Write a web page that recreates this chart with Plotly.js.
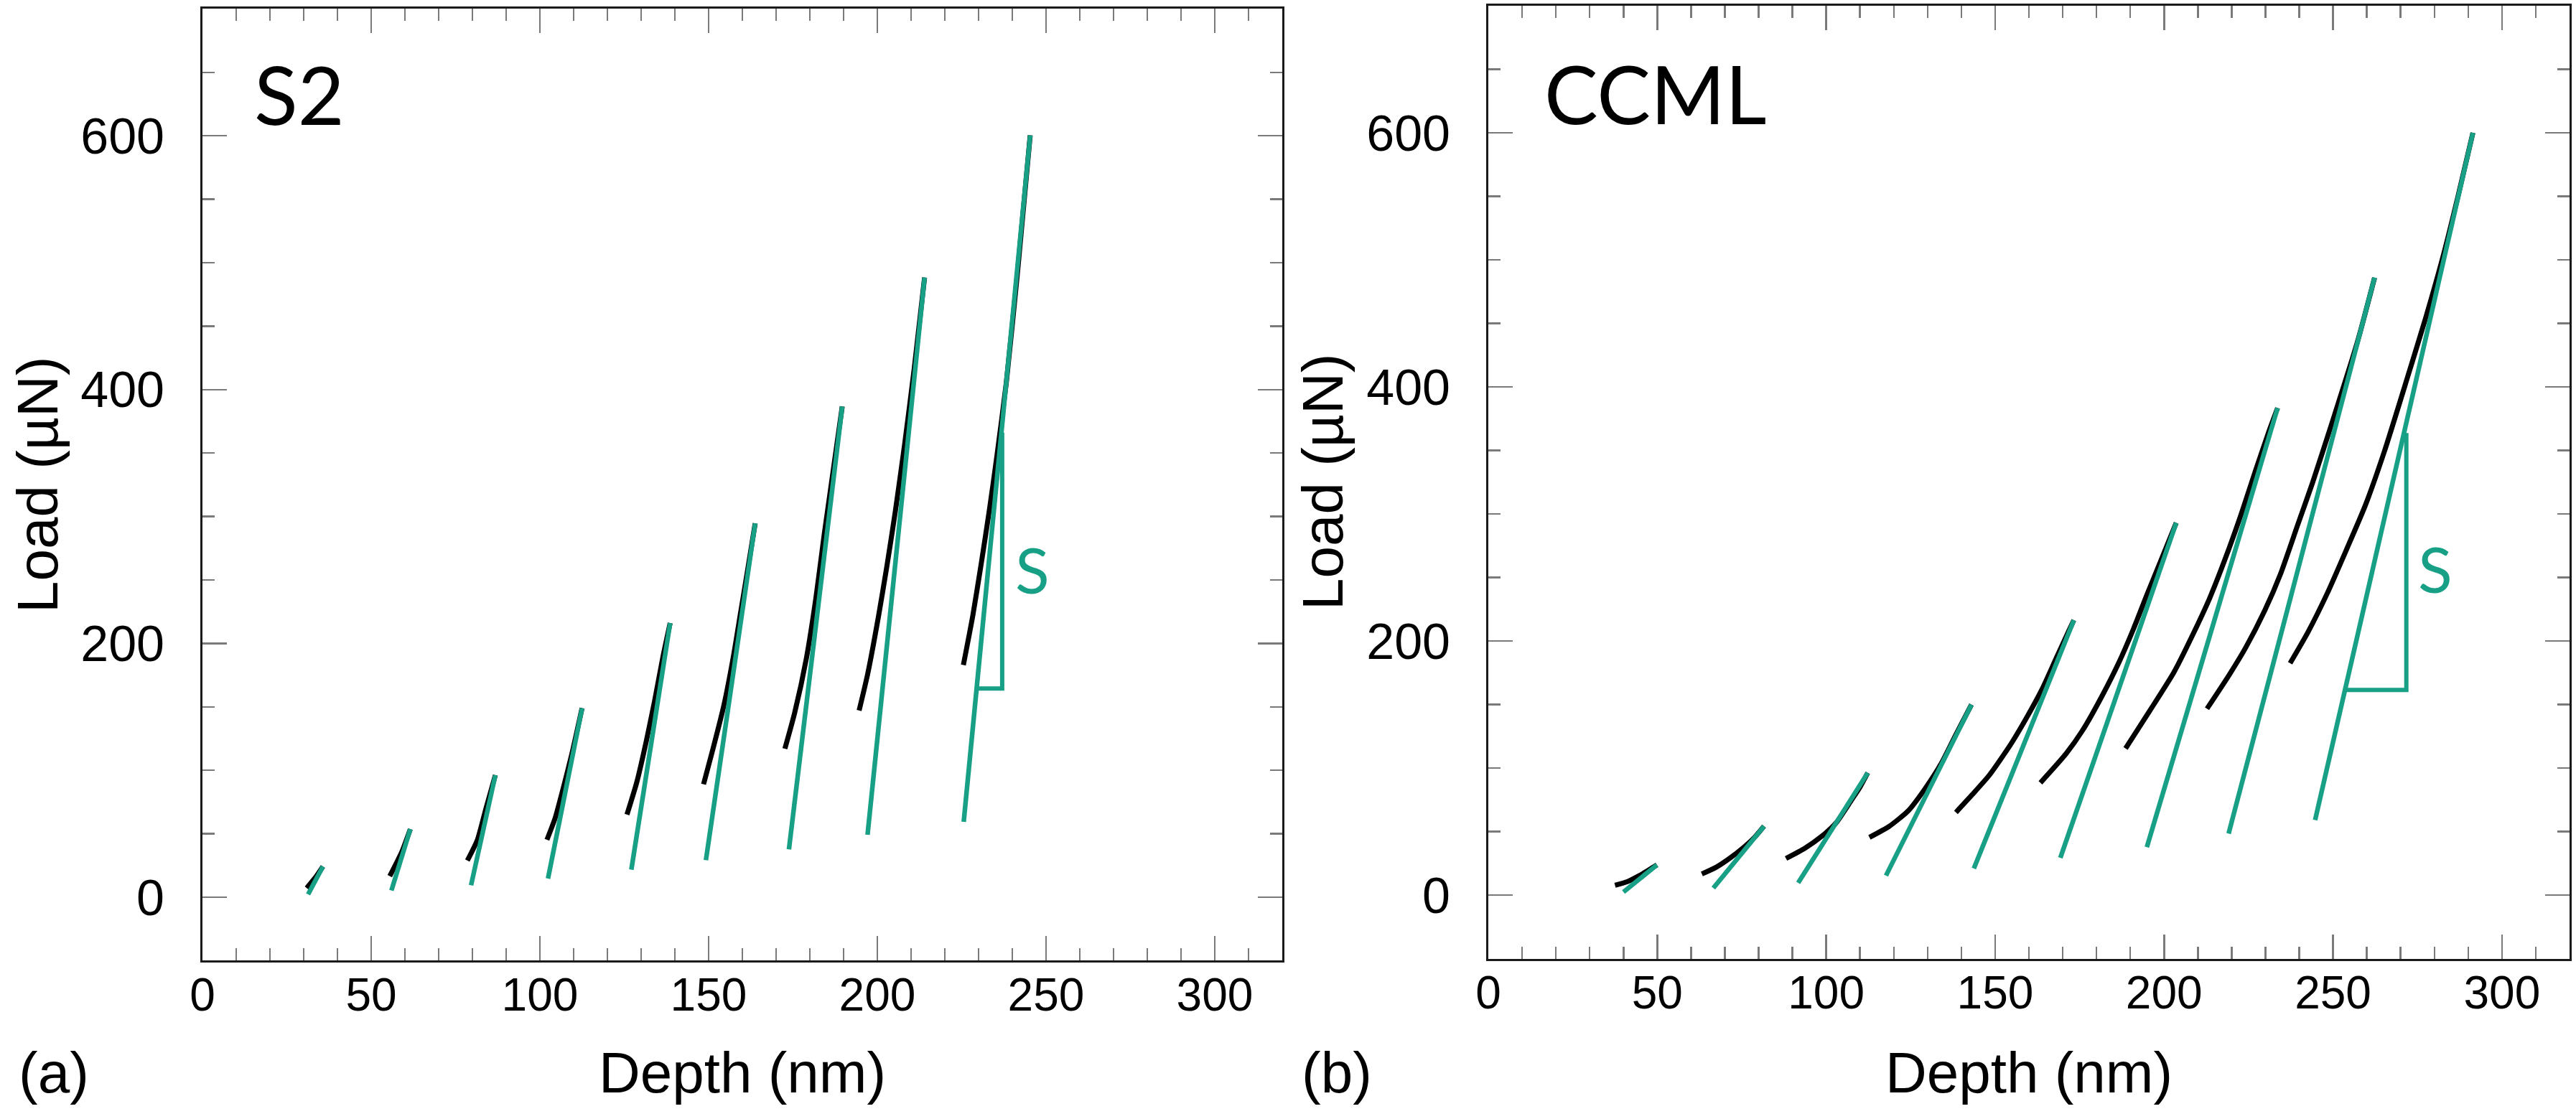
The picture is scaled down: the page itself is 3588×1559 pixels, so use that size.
<!DOCTYPE html>
<html>
<head>
<meta charset="utf-8">
<script src="https://cdn.plot.ly/plotly-3.0.1.min.js"></script>
<style>
  html, body { margin: 0; padding: 0; background: #ffffff; }
  #chart { width: 3588px; height: 1559px; }
</style>
</head>
<body>
<div id="chart"></div>
<script>
// S2: unloading segments (black), one list per cycle, depth in nm and load in uN
const s2CurveDepth = [
  [30.9, 33.6, 35.7],
  [55.5, 59.1, 61.6],
  [78.5, 81.5, 84.0, 86.8],
  [102.1, 104.5, 107.0, 109.5, 112.5],
  [125.8, 128.7, 131.5, 134.0, 136.4, 138.6],
  [148.5, 151.3, 154.5, 157.4, 159.5, 161.6, 163.8],
  [172.6, 175.5, 179.0, 181.8, 184.3, 189.6],
  [194.6, 197.1, 200.3, 202.8, 205.3, 208.1, 211.0, 214.0],
  [225.5, 228.3, 230.8, 233.2, 235.3, 238.2, 241.6, 245.3]
];
const s2CurveLoad = [
  [7.2, 16.0, 24.2],
  [16.6, 35.9, 53.7],
  [28.9, 45.3, 69.8, 96.2],
  [45.3, 62.2, 86.8, 113.2, 149.0],
  [65.1, 90.5, 122.6, 154.7, 188.6, 216.0],
  [89.0, 117.0, 150.9, 190.5, 224.5, 258.4, 294.6],
  [117.0, 145.3, 188.6, 235.8, 286.7, 386.7],
  [147.1, 175.4, 220.7, 260.3, 303.5, 357.0, 418.0, 488.3],
  [183.0, 222.0, 263.0, 305.0, 345.0, 405.0, 494.0, 600.4]
];

// S2: tangent lines (green), start and end of each
const s2FitDepth = [
  [31.3, 35.7], [56.0, 61.6], [79.6, 86.8], [102.4, 112.5], [127.1, 138.6],
  [149.2, 163.8], [173.8, 189.6], [197.1, 214.0], [225.6, 245.3]
];
const s2FitLoad = [
  [2.3, 24.2], [5.3, 53.7], [9.4, 96.2], [14.7, 149.0], [21.7, 216.0],
  [29.2, 294.6], [37.7, 386.7], [49.2, 488.3], [59.4, 600.4]
];

// CCML: unloading segments (black)
const ccmlCurveDepth = [
  [37.5, 41.2, 44.7, 47.6, 49.9],
  [63.2, 67.4, 71.7, 75.3, 78.8, 81.6],
  [88.1, 93.7, 98.7, 102.9, 107.2, 110.0, 112.3],
  [112.8, 118.5, 124.2, 129.1, 134.1, 138.4, 143.0],
  [138.4, 143.2, 148.3, 154.7, 159.6, 163.9, 168.1, 171.7, 173.3],
  [163.4, 171.0, 176.0, 181.6, 186.6, 190.9, 195.1, 198.7, 203.6],
  [188.6, 195.8, 202.9, 208.6, 213.5, 218.5, 222.8, 227.0, 231.3, 233.6],
  [212.7, 219.2, 224.2, 229.8, 234.5, 239.5, 244.0, 250.1, 257.2, 262.3],
  [237.3, 242.6, 248.3, 254.0, 259.6, 265.3, 272.1, 277.5, 282.5, 287.0, 291.4]
];
const ccmlCurveLoad = [
  [7.7, 10.6, 15.3, 19.9, 23.7],
  [16.6, 21.8, 29.4, 36.9, 45.4, 54.2],
  [28.8, 36.9, 46.3, 56.7, 73.6, 84.9, 96.2],
  [45.4, 53.8, 66.1, 83.1, 103.8, 126.4, 149.9],
  [65.1, 79.0, 94.4, 119.0, 141.0, 162.1, 186.6, 207.3, 216.4],
  [88.4, 111.3, 130.1, 156.5, 182.9, 209.2, 237.5, 261.0, 293.0],
  [115.4, 145.2, 175.3, 205.5, 233.7, 267.6, 299.6, 333.5, 367.0, 383.4],
  [146.7, 173.0, 195.0, 224.0, 253.0, 291.0, 325.0, 375.0, 435.2, 486.0],
  [182.5, 207.0, 237.5, 272.0, 307.0, 350.0, 408.0, 455.0, 502.0, 550.0, 600.0]
];

// CCML: tangent lines (green)
const ccmlFitDepth = [
  [40.0, 49.9], [66.6, 81.6], [91.7, 112.3], [117.7, 143.0], [143.7, 173.3],
  [169.3, 203.6], [194.9, 233.6], [219.1, 262.3], [244.7, 291.4]
];
const ccmlFitLoad = [
  [2.4, 23.7], [5.5, 54.2], [9.6, 96.2], [15.3, 149.9], [20.9, 216.4],
  [29.3, 293.0], [37.7, 383.4], [48.4, 486.0], [59.0, 600.0]
];

// stiffness triangles marked "S"
const s2StiffDepth = [229.4, 237.0, 237.0];
const s2StiffLoad = [164.5, 164.5, 366.0];
const ccmlStiffDepth = [253.6, 271.7, 271.7];
const ccmlStiffLoad = [161.5, 161.5, 363.7];

const TEAL = '#17a086';
const W = 3588, H = 1559;

function lineTraces(xs, ys, xa, ya, color, width, shape) {
  return xs.map((x, i) => ({
    x: x,
    y: ys[i],
    xaxis: xa,
    yaxis: ya,
    type: 'scatter',
    mode: 'lines',
    line: { color: color, width: width, shape: shape, smoothing: 0.6 },
    hoverinfo: 'skip',
    showlegend: false
  }));
}

const traces = [
  ...lineTraces(s2CurveDepth, s2CurveLoad, 'x', 'y', '#000000', 7, 'spline'),
  ...lineTraces(s2FitDepth, s2FitLoad, 'x', 'y', TEAL, 6.5, 'linear'),
  ...lineTraces([s2StiffDepth], [s2StiffLoad], 'x', 'y', TEAL, 6, 'linear'),
  ...lineTraces(ccmlCurveDepth, ccmlCurveLoad, 'x2', 'y2', '#000000', 7, 'spline'),
  ...lineTraces(ccmlFitDepth, ccmlFitLoad, 'x2', 'y2', TEAL, 6.5, 'linear'),
  ...lineTraces([ccmlStiffDepth], [ccmlStiffLoad], 'x2', 'y2', TEAL, 6, 'linear')
];

const tickGrey = '#7a7a7a';
const sans = 'Liberation Sans, Arial, sans-serif';
const frame = {
  showline: true, linecolor: '#1a1a1a', linewidth: 3, mirror: 'ticks',
  ticks: 'inside', ticklen: 34, tickwidth: 2.5, tickcolor: tickGrey,
  showgrid: false, zeroline: false
};
const xFrame = Object.assign({}, frame, {
  range: [0, 320], tick0: 0, dtick: 50, ticklabelstandoff: -10,
  tickfont: { family: sans, size: 64, color: '#000' },
  minor: { ticks: 'inside', dtick: 10, ticklen: 17, tickwidth: 2.5, tickcolor: tickGrey }
});
const yFrame = Object.assign({}, frame, {
  range: [-50, 700], tick0: 0, dtick: 200, ticklabelstandoff: 36,
  tickfont: { family: sans, size: 70, color: '#000' },
  minor: { ticks: 'inside', dtick: 50, ticklen: 17, tickwidth: 2.5, tickcolor: tickGrey }
});

function px(x) { return x / W; }
function py(y) { return 1 - y / H; }

function label(text, x, y, size, opts) {
  return Object.assign({
    text: text, xref: 'paper', yref: 'paper', x: px(x), y: py(y),
    xanchor: 'center', yanchor: 'middle', showarrow: false,
    font: { family: sans, size: size, color: '#000' }
  }, opts || {});
}

const layout = {
  width: W,
  height: H,
  margin: { l: 0, r: 0, t: 0, b: 0 },
  paper_bgcolor: '#ffffff',
  plot_bgcolor: '#ffffff',
  showlegend: false,
  xaxis: Object.assign({}, xFrame, { domain: [px(282), px(1786)], anchor: 'y' }),
  yaxis: Object.assign({}, yFrame, { domain: [py(1338.4), py(12.4)], anchor: 'x' }),
  xaxis2: Object.assign({}, xFrame, { domain: [px(2073), px(3579)], anchor: 'y2' }),
  yaxis2: Object.assign({}, yFrame, { domain: [py(1335.5), py(8)], anchor: 'x2' }),
  annotations: [
    label('Depth (nm)', 1034, 1494, 80),
    label('Depth (nm)', 2826, 1494, 80),
    label('Load (µN)', 53, 676, 80, { textangle: -90 }),
    label('Load (µN)', 1842, 672, 80, { textangle: -90 }),
    label('(a)', 75, 1494, 80),
    label('(b)', 1862, 1494, 80),
    label('S2', 417, 131, 112, { font: { family: 'Lato, sans-serif', size: 112, color: '#000' } }),
    label('CCML', 2306, 129, 112, { font: { family: 'Lato, sans-serif', size: 112, color: '#000' } }),
    label('S', 1438, 793, 88, { font: { family: 'Lato, sans-serif', size: 88, color: TEAL } }),
    label('S', 3392, 792, 88, { font: { family: 'Lato, sans-serif', size: 88, color: TEAL } })
  ]
};

Plotly.newPlot('chart', traces, layout, { staticPlot: true });
</script>
</body>
</html>
